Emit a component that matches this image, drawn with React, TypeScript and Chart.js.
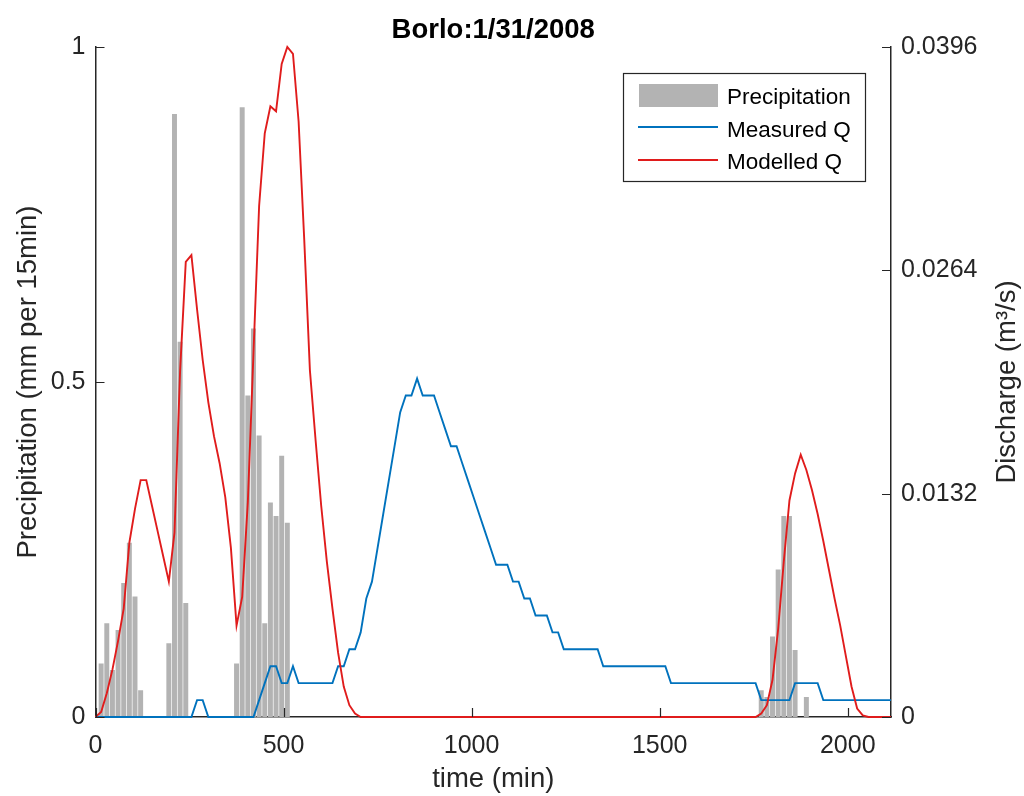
import React, { useEffect, useRef } from 'react';
import { Chart, registerables } from 'chart.js';

Chart.register(...registerables);

// ---- data ----
const precipTime = [15, 30, 45, 60, 75, 90, 105, 120, 195, 210, 225, 240, 375, 390, 405, 420, 435, 450, 465, 480, 495, 510, 1770, 1785, 1800, 1815, 1830, 1845, 1860, 1890];
const precipValue = [0.08, 0.14, 0.07, 0.13, 0.2, 0.26, 0.18, 0.04, 0.11, 0.9, 0.56, 0.17, 0.08, 0.91, 0.48, 0.58, 0.42, 0.14, 0.32, 0.3, 0.39, 0.29, 0.04, 0.03, 0.12, 0.22, 0.3, 0.3, 0.1, 0.03];

const measuredTime = [0, 255, 270, 285, 300, 420, 435, 450, 465, 480, 495, 510, 525, 540, 630, 645, 660, 675, 690, 705, 720, 735, 750, 765, 780, 795, 810, 825, 840, 855, 870, 900, 915, 930, 945, 960, 975, 990, 1005, 1020, 1035, 1050, 1065, 1095, 1110, 1125, 1140, 1155, 1170, 1200, 1215, 1230, 1245, 1335, 1350, 1515, 1530, 1755, 1770, 1845, 1860, 1920, 1935, 2115];
const measuredQ = [0, 0, 0.001, 0.001, 0, 0, 0.001, 0.002, 0.003, 0.003, 0.002, 0.002, 0.003, 0.002, 0.002, 0.003, 0.003, 0.004, 0.004, 0.005, 0.007, 0.008, 0.01, 0.012, 0.014, 0.016, 0.018, 0.019, 0.019, 0.02, 0.019, 0.019, 0.018, 0.017, 0.016, 0.016, 0.015, 0.014, 0.013, 0.012, 0.011, 0.01, 0.009, 0.009, 0.008, 0.008, 0.007, 0.007, 0.006, 0.006, 0.005, 0.005, 0.004, 0.004, 0.003, 0.003, 0.002, 0.002, 0.001, 0.001, 0.002, 0.002, 0.001, 0.001];

const modelledTime = [0, 15, 30, 45, 60, 75, 90, 105, 120, 135, 150, 165, 180, 195, 210, 225, 240, 255, 270, 285, 300, 315, 330, 345, 360, 375, 390, 405, 420, 435, 450, 465, 480, 495, 510, 525, 540, 555, 570, 585, 600, 615, 630, 645, 660, 675, 690, 705, 1755, 1770, 1785, 1800, 1815, 1830, 1845, 1860, 1875, 1890, 1905, 1920, 1935, 1950, 1965, 1980, 1995, 2010, 2025, 2040, 2055, 2115];
const modelledQ = [0, 0.0003, 0.0014, 0.0028, 0.0045, 0.0064, 0.0103, 0.0123, 0.014, 0.014, 0.0125, 0.011, 0.0095, 0.008, 0.0109, 0.0205, 0.0269, 0.0273, 0.0241, 0.0211, 0.0186, 0.0166, 0.015, 0.013, 0.01, 0.0054, 0.0071, 0.0127, 0.0215, 0.0302, 0.0345, 0.0361, 0.0358, 0.0386, 0.0396, 0.0392, 0.0352, 0.0282, 0.0205, 0.0164, 0.0125, 0.0092, 0.0064, 0.0038, 0.0018, 0.0007, 0.0002, 0, 0, 0.0002, 0.0007, 0.0022, 0.0052, 0.0092, 0.0128, 0.0144, 0.0155, 0.0146, 0.0134, 0.012, 0.0104, 0.0087, 0.007, 0.0054, 0.0036, 0.0018, 0.0005, 0.0001, 0, 0];

const xTicks = [0, 500, 1000, 1500, 2000];
const precipTicks = [0, 0.5, 1];
const dischargeTicks = [0, 0.0132, 0.0264, 0.0396];
const X_MIN = 0;
const X_MAX = 2115;

const TITLE = 'Borlo:1/31/2008';
const X_LABEL = 'time (min)';
const Y_LABEL = 'Precipitation (mm per 15min)';
const Y1_LABEL = 'Discharge (m\u00B3/s)';

// ---- styles ----
const FONT = "'Liberation Sans', Arial, Helvetica, sans-serif";
const AXIS_COLOR = '#262626';
const BAR_COLOR = '#b3b3b3';
const BLUE = '#0072BD';
const RED = '#e01c1c';

const inwardTicks = {
  id: 'inwardTicks',
  afterDraw(chart: any) {
    const { ctx, chartArea } = chart;
    const { left, right, bottom } = chartArea;
    const len = 9;
    ctx.save();
    ctx.strokeStyle = AXIS_COLOR;
    ctx.lineWidth = 1.2;
    ctx.beginPath();
    const xs = chart.scales.x;
    xs.ticks.forEach((t: any) => {
      const px = Math.round(xs.getPixelForValue(t.value)) + 0.5;
      ctx.moveTo(px, bottom);
      ctx.lineTo(px, bottom - len);
    });
    const ys = chart.scales.y;
    ys.ticks.forEach((t: any) => {
      const py = Math.round(ys.getPixelForValue(t.value)) + 0.5;
      ctx.moveTo(left, py);
      ctx.lineTo(left + len, py);
    });
    const y1 = chart.scales.y1;
    y1.ticks.forEach((t: any) => {
      const py = Math.round(y1.getPixelForValue(t.value)) + 0.5;
      ctx.moveTo(right, py);
      ctx.lineTo(right - len, py);
    });
    ctx.stroke();
    ctx.restore();
  },
};

const rightTitle = {
  id: 'rightTitle',
  afterDraw(chart: any) {
    const { ctx, chartArea } = chart;
    const cy = (chartArea.top + chartArea.bottom) / 2;
    ctx.save();
    ctx.translate(1007, cy);
    ctx.rotate(-Math.PI / 2);
    ctx.font = `27.5px ${FONT}`;
    ctx.fillStyle = AXIS_COLOR;
    ctx.textAlign = 'center';
    ctx.textBaseline = 'middle';
    ctx.fillText(Y1_LABEL, 0, 0);
    ctx.restore();
  },
};

const boxLegend = {
  id: 'boxLegend',
  afterDraw(chart: any) {
    const { ctx } = chart;
    const ds = chart.data.datasets;
    ctx.save();
    ctx.fillStyle = '#ffffff';
    ctx.fillRect(623, 73, 242, 108);
    ctx.strokeStyle = AXIS_COLOR;
    ctx.lineWidth = 1.2;
    ctx.strokeRect(623.5, 73.5, 242, 108);
    ctx.font = `22.5px ${FONT}`;
    ctx.textBaseline = 'alphabetic';
    ctx.textAlign = 'left';
    const rows = [96, 127, 160];
    const baselines = [103.5, 136.5, 169];
    ds.forEach((d: any, i: number) => {
      const y = rows[i];
      if (d.type === 'bar') {
        ctx.fillStyle = d.backgroundColor;
        ctx.fillRect(639, y - 12, 79, 23);
      } else {
        ctx.strokeStyle = d.borderColor;
        ctx.lineWidth = 1.8;
        ctx.beginPath();
        ctx.moveTo(638, y);
        ctx.lineTo(718, y);
        ctx.stroke();
      }
      ctx.fillStyle = '#000000';
      ctx.fillText(d.label, 727, baselines[i]);
    });
    ctx.restore();
  },
};

export default function App() {
  const ref = useRef<HTMLCanvasElement | null>(null);

  useEffect(() => {
    if (!ref.current) return;
    const tickFont = { family: FONT, size: 25 };
    const chart = new Chart(ref.current, {
      type: 'bar',
      data: {
        datasets: [
          {
            type: 'bar',
            label: 'Precipitation',
            data: precipTime.map((t, i) => ({ x: t, y: precipValue[i] })),
            backgroundColor: BAR_COLOR,
            borderWidth: 0,
            barPercentage: 0.88,
            categoryPercentage: 1,
            xAxisID: 'x',
            yAxisID: 'y',
            order: 3,
          } as any,
          {
            type: 'line',
            label: 'Measured Q',
            data: measuredTime.map((t, i) => ({ x: t, y: measuredQ[i] })),
            borderColor: BLUE,
            backgroundColor: BLUE,
            borderWidth: 1.9,
            pointRadius: 0,
            tension: 0,
            fill: false,
            clip: false,
            xAxisID: 'x',
            yAxisID: 'y1',
            order: 2,
          } as any,
          {
            type: 'line',
            label: 'Modelled Q',
            data: modelledTime.map((t, i) => ({ x: t, y: modelledQ[i] })),
            borderColor: RED,
            backgroundColor: RED,
            borderWidth: 1.9,
            pointRadius: 0,
            tension: 0,
            fill: false,
            clip: false,
            xAxisID: 'x',
            yAxisID: 'y1',
            order: 1,
          } as any,
        ],
      },
      options: {
        responsive: false,
        animation: false,
        devicePixelRatio: 1,
        layout: { padding: 0 },
        plugins: {
          legend: { display: false },
          tooltip: { enabled: false },
          title: {
            display: true,
            text: TITLE,
            fullSize: false,
            color: '#000000',
            font: { family: FONT, size: 27.5, weight: 'bold', lineHeight: 1 },
            padding: { top: 17, bottom: 2.5 },
          },
        },
        scales: {
          x: {
            type: 'linear',
            position: 'bottom',
            min: X_MIN,
            max: X_MAX,
            offset: false,
            grid: { display: false, drawTicks: false, offset: false },
            border: { display: true, color: AXIS_COLOR, width: 1.5 },
            afterBuildTicks: (scale: any) => {
              scale.ticks = xTicks.map((v) => ({ value: v }));
            },
            afterFit: (scale: any) => {
              scale.height = 79;
            },
            ticks: {
              autoSkip: false,
              maxRotation: 0,
              includeBounds: false,
              padding: 14,
              color: AXIS_COLOR,
              font: tickFont,
              callback: (v: any) => String(v),
            },
            title: {
              display: true,
              text: X_LABEL,
              color: AXIS_COLOR,
              font: { family: FONT, size: 27.5, lineHeight: 1 },
              padding: { top: 0, bottom: 3 },
            },
          },
          y: {
            type: 'linear',
            position: 'left',
            min: 0,
            max: 1,
            grid: { display: false, drawTicks: false },
            border: { display: true, color: AXIS_COLOR, width: 1.5 },
            afterBuildTicks: (scale: any) => {
              scale.ticks = precipTicks.map((v) => ({ value: v }));
            },
            afterFit: (scale: any) => {
              scale.width = 95.5;
            },
            ticks: {
              autoSkip: false,
              padding: 10,
              color: AXIS_COLOR,
              font: tickFont,
              callback: (v: any) => String(v),
            },
            title: {
              display: true,
              text: Y_LABEL,
              color: AXIS_COLOR,
              font: { family: FONT, size: 27.5, lineHeight: 1 },
              padding: { top: 15, bottom: 0 },
            },
          },
          y1: {
            type: 'linear',
            position: 'right',
            min: 0,
            max: 0.0396,
            grid: { display: false, drawTicks: false },
            border: { display: true, color: AXIS_COLOR, width: 1.5 },
            afterBuildTicks: (scale: any) => {
              scale.ticks = dischargeTicks.map((v) => ({ value: v }));
            },
            afterFit: (scale: any) => {
              scale.width = 133;
            },
            ticks: {
              autoSkip: false,
              padding: 10,
              color: AXIS_COLOR,
              font: tickFont,
              callback: (v: any) => String(Number(Number(v).toFixed(4))),
            },
          },
        },
      } as any,
      plugins: [inwardTicks, rightTitle, boxLegend],
    });
    return () => chart.destroy();
  }, []);

  return (
    <div style={{ position: 'absolute', left: 0, top: 0, width: 1024, height: 796, background: '#ffffff' }}>
      <canvas ref={ref} width={1024} height={796} style={{ display: 'block', width: 1024, height: 796 }} />
    </div>
  );
}
